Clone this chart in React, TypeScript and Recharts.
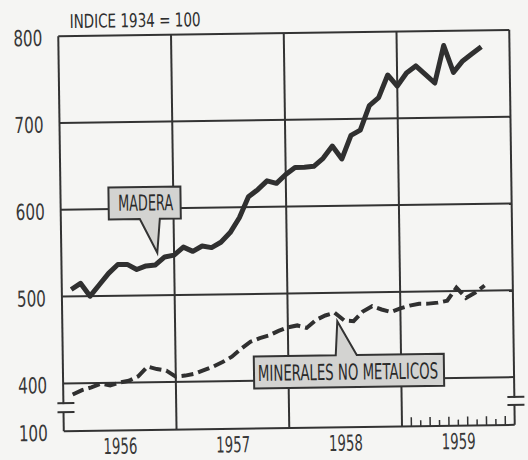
import { LineChart, Line, XAxis, YAxis, ReferenceLine } from 'recharts'

// month index counted from January 1956 (1 = Feb 1956 ... 45 = Oct 1959)
const madera = [
  508, 515, 500, 513, 526, 536, 536, 530, 534, 535, 544, 546, 555, 550, 556,
  554, 560, 571, 588, 612, 620, 630, 627, 637, 645, 645, 646, 655, 669, 654,
  681, 687, 715, 724, 750, 737, 752, 760, 750, 740, 783, 752, 765, 773, 781,
]
const minerales = [
  387, 392, 395, 399, 397, 400, 402, 407, 418, 415, 413, 406, 407, 409, 413,
  417, 422, 428, 437, 445, 449, 452, 457, 461, 463, 460, 469, 474, 477, 468,
  467, 478, 484, 480, 477, 481, 484, 486, 486, 487, 489, 504, 492, 498, 506,
]
const years = ['1956', '1957', '1958', '1959']
const yearMid = [6, 18, 30, 42]
const yearBounds = [12, 24, 36]
const yTicks = [345, 400, 500, 600, 700, 800]
const yTickLabels = ['100', '400', '500', '600', '700', '800']
const gridY = [400, 500, 600, 700]
const minorTicks = [37, 38, 39, 40, 41, 42, 43, 44, 45, 46, 47]

const data = madera.map((v, i) => ({ t: i + 1, madera: v, minerales: minerales[i] }))

const INK = '#333333'
const BG = '#f5f5f3'
const FONT = "'DejaVu Sans Condensed', 'Liberation Sans', sans-serif"

const YTick = ({ x, y, payload }: any) => {
  const label = yTickLabels[yTicks.indexOf(payload.value)]
  return (
    <text x={x} y={y + 2} textAnchor="end" dominantBaseline="central" fontFamily={FONT}
      fontSize={22} fill="#383838" textLength={29} lengthAdjust="spacingAndGlyphs">
      {label}
    </text>
  )
}

const XTick = ({ x, y, payload }: any) => {
  const label = years[yearMid.indexOf(payload.value)]
  return (
    <text x={x} y={y} textAnchor="middle" dominantBaseline="central" fontFamily={FONT}
      fontSize={22} fill="#383838" textLength={34} lengthAdjust="spacingAndGlyphs">
      {label}
    </text>
  )
}

const MinorTick = ({ x, y, index }: any) => (
  <line x1={x} x2={x} y1={y} y2={y - (index % 2 === 0 ? 9 : 6)} stroke={INK} strokeWidth={1.5} />
)

function Overlay() {
  return (
    <svg width={528} height={460} style={{ position: 'absolute', left: 0, top: 0, pointerEvents: 'none' }}>
      <text x={138} y={18} textAnchor="middle" dominantBaseline="central" fontFamily={FONT}
        fontSize={19} fill="#2e2e2e" textLength={131} lengthAdjust="spacingAndGlyphs">
        INDICE 1934 = 100
      </text>

      <path d="M109,185 H181 V217 H160 L157,251 L140,217 H109 Z" fill="#d3d3d1" stroke={INK} strokeWidth={2} />
      <text x={146} y={201} textAnchor="middle" dominantBaseline="central" fontFamily={FONT}
        fontSize={22} fill="#2a2a2a" textLength={55} lengthAdjust="spacingAndGlyphs">
        MADERA
      </text>

      <path d="M252,356 H334 L336,322 L355,356 H442 V388 H252 Z" fill="#d3d3d1" stroke={INK} strokeWidth={2} />
      <text x={346} y={373} textAnchor="middle" dominantBaseline="central" fontFamily={FONT}
        fontSize={22} fill="#2a2a2a" textLength={180} lengthAdjust="spacingAndGlyphs">
        MINERALES NO METALICOS
      </text>

      {/* axis breaks */}
      <rect x={57} y={401} width={8} height={8} fill={BG} />
      <line x1={55} x2={72} y1={400} y2={400} stroke={INK} strokeWidth={2} />
      <line x1={55} x2={72} y1={409} y2={409} stroke={INK} strokeWidth={2} />
      <rect x={508} y={401} width={8} height={7} fill={BG} />
      <line x1={505} x2={522} y1={400} y2={400} stroke={INK} strokeWidth={2} />
      <line x1={505} x2={522} y1={408} y2={408} stroke={INK} strokeWidth={2} />
    </svg>
  )
}

export default function App() {
  return (
    <div style={{ position: 'absolute', left: 0, top: 0, width: 528, height: 460, background: BG, overflow: 'hidden' }}>
      <div style={{ position: 'absolute', left: 0, top: 0, width: 528, height: 460, transform: 'rotate(-0.8deg)', transformOrigin: '287px 230px' }}>
        <LineChart width={528} height={460} data={data} margin={{ top: 33, right: 16, bottom: 0, left: 0 }}>
          <XAxis xAxisId="minor" type="number" dataKey="t" domain={[0, 48]} ticks={minorTicks}
            mirror height={10} axisLine={false} tickLine={false} tickSize={0} tickMargin={0}
            tick={<MinorTick />} interval={0} />
          <XAxis type="number" dataKey="t" domain={[0, 48]} ticks={yearMid} height={32}
            axisLine={{ stroke: INK, strokeWidth: 2 }} tickLine={false} tickSize={0} tickMargin={16}
            tick={<XTick />} interval={0} />
          <YAxis type="number" domain={[345, 800]} ticks={yTicks} width={61}
            axisLine={{ stroke: INK, strokeWidth: 2 }} tickLine={false} tickSize={0} tickMargin={16}
            tick={<YTick />} interval={0} />
          {gridY.map((v) => (
            <ReferenceLine key={'y' + v} y={v} stroke={INK} strokeWidth={2} />
          ))}
          <ReferenceLine y={800} stroke={INK} strokeWidth={2} />
          {yearBounds.map((v) => (
            <ReferenceLine key={'x' + v} x={v} stroke={INK} strokeWidth={2} />
          ))}
          <ReferenceLine x={48} stroke={INK} strokeWidth={2} />
          <Line dataKey="madera" type="linear" stroke="#303030" strokeWidth={5} dot={false}
            strokeLinejoin="round" isAnimationActive={false} />
          <Line dataKey="minerales" type="linear" stroke="#303030" strokeWidth={4} dot={false}
            strokeDasharray="12 5" isAnimationActive={false} />
        </LineChart>
        <Overlay />
      </div>
    </div>
  )
}
